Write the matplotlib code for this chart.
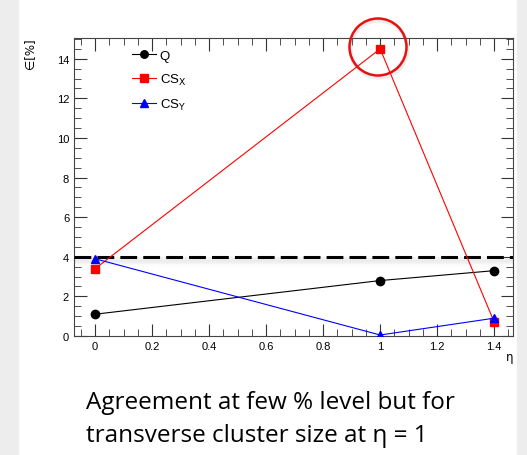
import matplotlib
matplotlib.use("Agg")
import matplotlib.pyplot as plt
from matplotlib.patches import Rectangle, Circle
from matplotlib.ticker import MultipleLocator
import numpy as np

eta = [0.0, 1.0, 1.4]
q_vals = [1.1, 2.8, 3.3]
csx_vals = [3.4, 14.5, 0.7]
csy_vals = [3.9, 0.05, 0.9]
threshold = 4.0
caption = ["Agreement at few % level but for", "transverse cluster size at \u03b7 = 1"]

W, H = 527, 456
fig = plt.figure(figsize=(W/100, H/100), dpi=100)
fig.patch.set_facecolor("white")
# gray side strips
fig.add_artist(Rectangle((0, 0), 18/W, 1, transform=fig.transFigure, color="#ededed", zorder=0))
fig.add_artist(Rectangle((517/W, 0), 1, 1, transform=fig.transFigure, color="#ededed", zorder=0))

ax = fig.add_axes([74/W, 1-337/H, (513-74)/W, (337-39)/H])
ax.set_xlim(-0.074, 1.466)
ax.set_ylim(0, 15.05)

ax.plot(eta, q_vals, color="black", lw=0.8, marker="o", ms=6, mfc="black", mec="black", label="Q", zorder=4)
ax.plot(eta, csx_vals, color="#ff0000", lw=0.8, marker="s", ms=6, mfc="#ff0000", mec="#ff0000", label="CS$_\\mathrm{X}$", zorder=4)
ax.plot(eta, csy_vals, color="#0000ff", lw=0.8, marker="^", ms=6, mfc="#0000ff", mec="#0000ff", label="CS$_\\mathrm{Y}$", zorder=5)

# shadow under dashed line
for i, a in enumerate(np.linspace(0.10, 0.0, 8)):
    ax.axhline(threshold - 0.08 - i*0.06, color="gray", lw=1.5, alpha=a, zorder=2)
ax.axhline(threshold, color="black", lw=2.2, ls=(0, (5.5, 2)), zorder=3)

ax.xaxis.set_minor_locator(MultipleLocator(0.05))
ax.yaxis.set_major_locator(MultipleLocator(2))
ax.yaxis.set_minor_locator(MultipleLocator(0.5))
ax.set_xticks([0, 0.2, 0.4, 0.6, 0.8, 1, 1.2, 1.4])
ax.set_xticklabels(["0", "0.2", "0.4", "0.6", "0.8", "1", "1.2", "1.4"])
ax.tick_params(which="both", direction="in", top=True, right=True, labelsize=8, color="#333333")
ax.tick_params(which="major", length=9, width=0.8)
ax.tick_params(which="minor", length=5, width=0.6)
for lab in ax.get_xticklabels() + ax.get_yticklabels():
    lab.set_family("Liberation Sans")
for s in ax.spines.values():
    s.set_color("#444444")
    s.set_linewidth(0.8)

leg = ax.legend(loc="upper left", bbox_to_anchor=(0.105, 1.0), frameon=False,
                prop={"family": "Liberation Sans", "size": 9.5}, handlelength=1.8,
                handletextpad=0.3, labelspacing=0.75, markerscale=0.9)

fig.text(30/W, 1-38/H, "\u2208[%]", rotation=90, ha="center", va="top", fontsize=8.5, family="DejaVu Sans")
fig.text(510/W, 1-357/H, "\u03b7", ha="center", va="center", fontsize=8.5, family="DejaVu Sans")

# highlight circle (in inches so it stays round)
circ = Circle((378/100, (H-48)/100), 0.285, transform=fig.dpi_scale_trans, fill=False,
              ec="#e81010", lw=1.8, zorder=10)
fig.add_artist(circ)
shadow = Circle((379/100, (H-50)/100), 0.285, transform=fig.dpi_scale_trans, fill=False,
                ec="gray", lw=3, alpha=0.15, zorder=9)
fig.add_artist(shadow)

fig.text(86/W, 1-409/H, caption[0], ha="left", va="baseline", fontsize=17.5, family="Open Sans")
fig.text(86/W, 1-442/H, caption[1], ha="left", va="baseline", fontsize=17.5, family="Open Sans")

fig.savefig("out.png", dpi=100, facecolor="white")
